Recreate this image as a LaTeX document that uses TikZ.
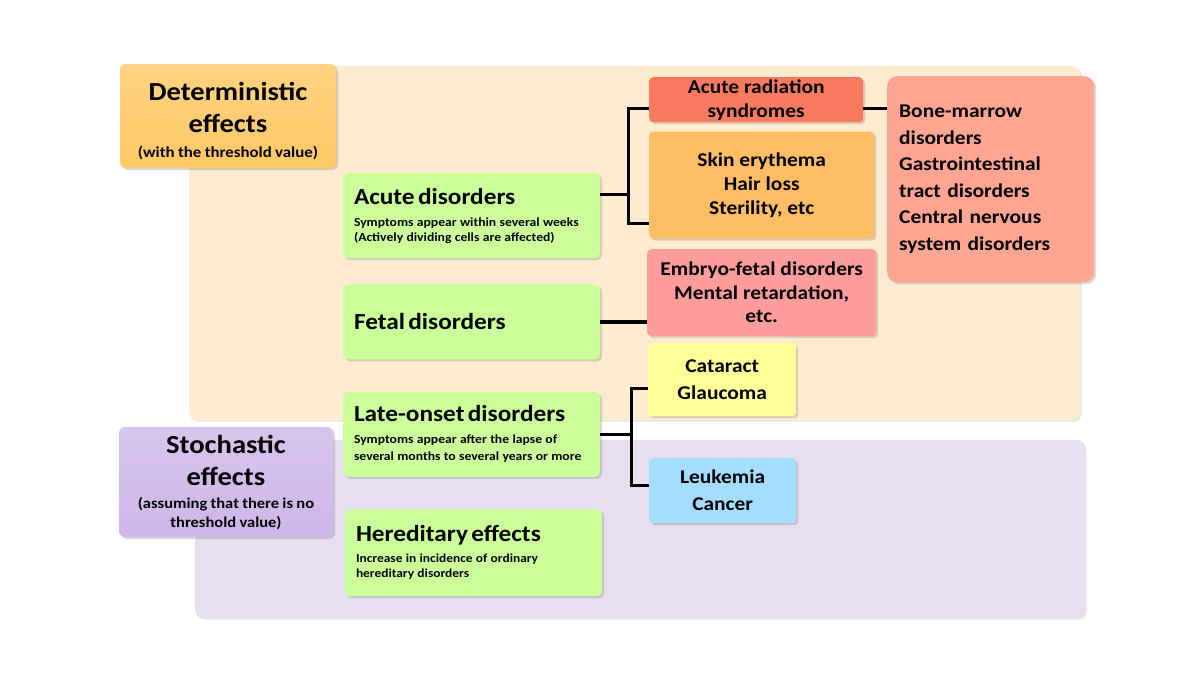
\documentclass[tikz,border=0pt]{standalone}
\usepackage{fontspec}
\setmainfont{Carlito}[FakeStretch=1.1]
\usepackage{tikz}
\usetikzlibrary{positioning, arrows.meta, shapes, shadows, calc}
\usepackage{xcolor}

\definecolor{peachbg}{HTML}{FEEBD0}
\definecolor{lilacbg}{HTML}{E7DEF0}
\definecolor{detorange}{HTML}{FFC864}
\definecolor{stopurple}{HTML}{CDB6E8}
\definecolor{disgreen}{HTML}{CCFF99}
\definecolor{arsred}{HTML}{FA7A60}
\definecolor{skinorange}{HTML}{FFBE64}
\definecolor{fetalpink}{HTML}{FF9C9C}
\definecolor{organsalmon}{HTML}{FFA592}
\definecolor{eyeyellow}{HTML}{FFFF99}
\definecolor{cancerblue}{HTML}{A3DDFF}

\newcommand{\effectsize}{\fontsize{26}{32}\selectfont}
\newcommand{\titlesize}{\fontsize{23}{25}\selectfont}
\newcommand{\notesize}{\fontsize{12.4}{15}\selectfont}

\begin{document}
\begin{tikzpicture}[x=1pt, y=-1pt,
    node distance=26pt and 49pt,
    softshadow/.style={drop shadow={shadow xshift=2pt, shadow yshift=-2pt, opacity=0.3}},
    panel/.style={rounded corners=8pt, drop shadow={shadow xshift=1.5pt, shadow yshift=-1.5pt, opacity=0.2}},
    effect/.style={rectangle, rounded corners=6pt, inner sep=0pt, align=center,
      font=\bfseries, softshadow},
    disorder/.style={rectangle, rounded corners=5pt, fill=disgreen, inner xsep=11pt, inner ysep=0pt,
      text width=235pt, minimum height=85pt, align=left, font=\bfseries, softshadow},
    result/.style={rectangle, rounded corners=4pt, inner sep=0pt, align=center,
      font=\bfseries\fontsize{19.5}{24}\selectfont, softshadow},
    link/.style={line width=3.2pt}]

    \useasboundingbox (0,0) rectangle (1200,675);
    \fill[white] (0,0) rectangle (1200,675);

    % Panels
    \fill[panel, fill=peachbg] (189,66) rectangle (1080,420);
    \fill[panel, fill=lilacbg] (195,440) rectangle (1085,618);

    % Effects
    \node[effect, top color=detorange!80!white, bottom color=detorange, text width=216pt,
      minimum height=104pt] (det) at (228,116)
      {{\effectsize\rule{0pt}{28pt}Deterministic\\ effects\par}{\fontsize{15.3}{25}\selectfont (with the threshold value)\par}};
    \node[effect, top color=stopurple!80!white, bottom color=stopurple, text width=214pt,
      minimum height=110pt] (sto) at (226,482)
      {{\effectsize Stochastic\\ effects\par}\vspace{4pt}{\fontsize{15}{19}\selectfont (assuming that there is no\\ threshold value)\par}};

    % Disorders
    \node[disorder] (acute) at (471.5,215.5)
      {{\titlesize Acute disorders\par}\vspace{7pt}{\notesize Symptoms appear within several weeks\\ (Actively dividing cells are affected)\par}};
    \node[disorder, minimum height=75pt, below=of acute] (fetal) {{\titlesize Fetal disorders\par}};
    \node[disorder, below=32pt of fetal] (late)
      {{\titlesize Late-onset disorders\par}\vspace{5pt}{\fontsize{12.4}{17}\selectfont Symptoms appear after the lapse of\\ several months to several years or more\par}};
    \node[disorder, minimum height=87pt, below=32pt of late, xshift=2pt] (hered)
      {{\titlesize Hereditary effects\par}\vspace{6pt}{\fontsize{12.2}{15}\selectfont Increase in incidence of ordinary\\ hereditary disorders\par}};

    % Results
    \node[result, fill=arsred, minimum width=214pt, minimum height=45pt, anchor=north west] (ars) at (649,77)
      {Acute radiation\\ syndromes};
    \node[result, fill=skinorange, minimum width=225pt, minimum height=107pt,
      below=9pt of ars.south west, anchor=north west] (skin) {Skin erythema\\ Hair loss\\ Sterility, etc};
    \node[result, fill=fetalpink, minimum width=229pt, minimum height=87pt, anchor=north west,
      font=\bfseries\fontsize{19.5}{23.5}\selectfont] (embryo) at (647,249)
      {Embryo-fetal disorders\\ Mental retardation,\\ etc.};
    \node[result, fill=organsalmon, rounded corners=10pt, text width=183pt, inner xsep=12pt,
      minimum height=206pt, align=left, anchor=north west,
      font=\bfseries\fontsize{19.5}{26.6}\selectfont] (organ) at (887,76)
      {Bone-marrow\\ disorders\\ Gastrointestinal\\ tract disorders\\ Central nervous\\ system disorders};
    \node[result, fill=eyeyellow, minimum width=148pt, minimum height=73pt, anchor=north west,
      font=\bfseries\fontsize{19.5}{27}\selectfont] (eye) at (648,343) {Cataract\\ Glaucoma};
    \node[result, fill=cancerblue, minimum width=147pt, minimum height=65pt, anchor=north west,
      font=\bfseries\fontsize{19.5}{27}\selectfont] (cancer) at (649,458) {Leukemia\\ Cancer};

    % Links
    \draw[link] ($(acute.north east)!0.25!(acute.south east)$) -- ++(28,0) coordinate (forkA);
    \draw[link] ($(ars.north west)!0.7!(ars.south west)$) coordinate (arsW) -| (forkA)
      |- ($(skin.north west)!0.86!(skin.south west)$);
    \draw[link] ($(ars.north east)!0.7!(ars.south east)$) -- (arsW -| organ.west);
    \draw[link] (fetal.east) -- (fetal.east -| embryo.west);
    \draw[link] (late.east) -- ++(31,0) coordinate (forkB);
    \draw[link] ($(eye.north west)!0.62!(eye.south west)$) -| (forkB)
      |- ($(cancer.north west)!0.42!(cancer.south west)$);
  \end{tikzpicture}
\end{document}
